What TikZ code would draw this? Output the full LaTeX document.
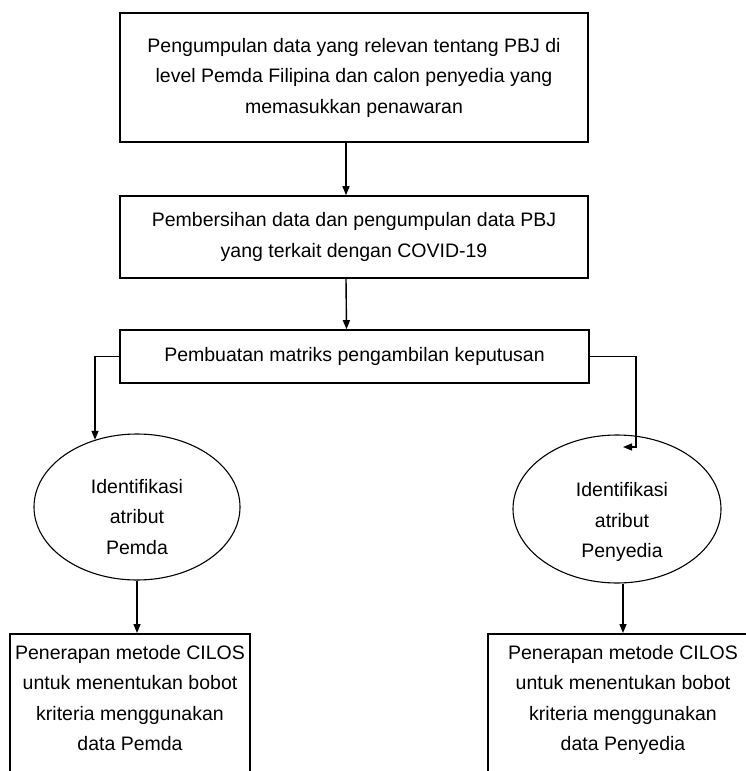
\documentclass[tikz,border=0pt]{standalone}
\usepackage{fontspec}
\setmainfont{Liberation Sans}
\usetikzlibrary{shapes.geometric,arrows.meta,positioning}

\begin{document}
\begin{tikzpicture}[x=1pt,y=-1pt,
    font=\fontsize{19.5}{30.5}\selectfont,
    box/.style={draw,line width=1.6pt,align=center,inner sep=0pt},
    oval/.style={draw,ellipse,line width=1.1pt,align=center,inner sep=0pt},
    teks/.style={align=center,inner sep=0pt},
    arr/.style={line width=1.4pt,-{Triangle[length=9pt,width=7pt]}}]
  \useasboundingbox[fill=white] (0,0) rectangle (745,771);

  % draw boxes
  \node[box,minimum width=468pt,minimum height=129pt] (pengumpulan) at (354,77.5)
    {Pengumpulan data yang relevan tentang PBJ di\\level Pemda Filipina dan calon penyedia yang\\memasukkan penawaran};
  \node[box,minimum width=468pt,minimum height=82pt] (pembersihan) at (354,237)
    {Pembersihan data dan pengumpulan data PBJ\\yang terkait dengan COVID-19};
  \node[box,minimum width=469pt,minimum height=53pt] (pembuatan) at (354.5,356.5)
    {Pembuatan matriks pengambilan keputusan};

  % draw ellipses
  \node[oval,minimum width=206pt,minimum height=146pt] (atributPemda) at (137,507) {};
  \node[teks] (teksPemda) at (137,517) {Identifikasi\\atribut\\Pemda};
  \node[oval,minimum width=208pt,minimum height=148pt] (atributPenyedia) at (617,509) {};
  \node[teks] (teksPenyedia) at (622,522) {Identifikasi\\atribut\\Penyedia};

  % bottom boxes, cut by the page
  \node[box,anchor=north,minimum width=240pt,minimum height=200pt] (penerapanL) at (130,633) {};
  \node[teks,below=12pt of penerapanL.north] (teksL)
    {Penerapan metode CILOS\\untuk menentukan bobot\\kriteria menggunakan\\data Pemda};
  \node[box,anchor=north,minimum width=270pt,minimum height=200pt] (penerapanR) at (623,633) {};
  \node[teks,below=12pt of penerapanR.north] (teksR)
    {Penerapan metode CILOS\\untuk menentukan bobot\\kriteria menggunakan\\data Penyedia};

  % draw arrows
  \coordinate (ujungR) at (623,447);
  \draw[arr] ([xshift=-8pt]pengumpulan.south) -- ([xshift=-8pt]pembersihan.north);
  \draw[arr] ([xshift=-8pt]pembersihan.south) -- ([xshift=-8pt]pembuatan.north);
  \draw[arr] (pembuatan.west) -| (atributPemda.122);
  \draw[arr] (pembuatan.east) -- ++(46,0) |- (ujungR);
  \draw[arr] (atributPemda.south) -- (atributPemda.south |- penerapanL.north);
  \draw[arr] (atributPenyedia.south -| penerapanR.north) -- (penerapanR.north);
\end{tikzpicture}
\end{document}
